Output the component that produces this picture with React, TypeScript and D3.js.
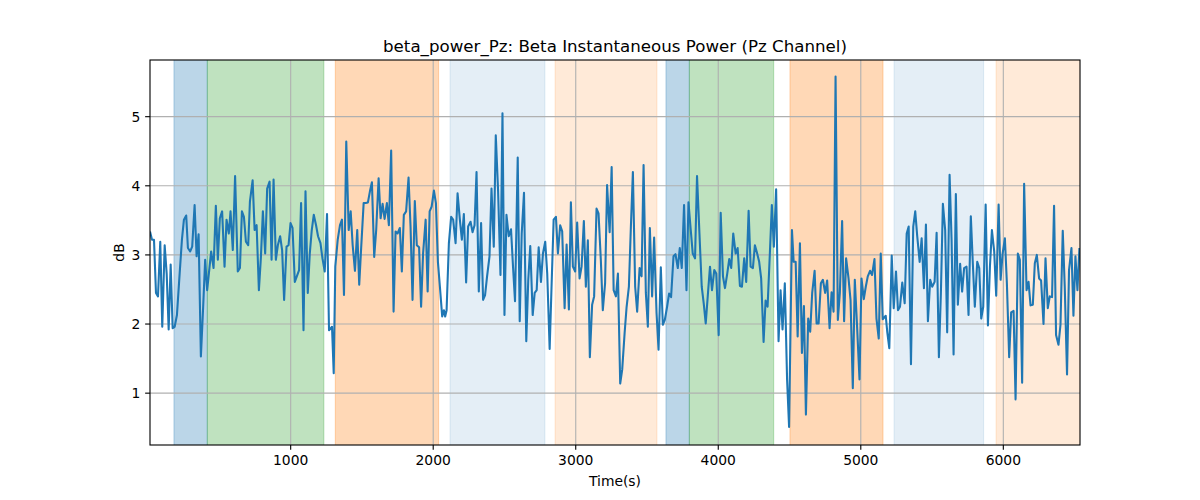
import React from 'react';
import * as d3 from 'd3';

// [time (s), power (dB)], by time window
const powerA: [number, number][] = [
  [13,3.34],[27,3.22],[41,3.22],[55,2.45],[69,2.40],[85,3.19],[99,1.96],[116,3.14],[130,2.73],[144,1.92],
  [158,2.86],[172,1.94],[186,1.96],[202,2.13],[221,2.73],[237,3.22],[251,3.51],[267,3.57],[279,3.10],[295,3.05],
  [309,3.12],[326,3.72],[340,2.98],[354,3.30],[370,1.53],[386,2.25],[400,2.93],[414,2.49],[426,2.73],[442,3.05],
  [459,2.81],[475,3.71],[489,2.93],[503,3.53],[519,3.63],[536,2.83],[550,3.51],[566,3.31],[578,3.63],[594,3.07],
  [610,4.14],[629,2.76],
];
const powerB: [number, number][] = [
  [644,2.81],[658,3.63],[672,3.55],[686,3.19],[702,3.14],[714,3.77],[733,4.08],[747,3.36],[761,3.43],[777,2.49],
  [791,2.96],[805,3.63],[821,3.02],[835,3.96],[852,4.06],[866,2.93],[880,4.09],[896,2.93],[910,3.14],[926,3.27],
  [940,3.07],[954,2.35],[971,3.12],[985,3.14],[999,3.46],[1013,3.39],[1029,2.61],[1043,2.69],[1059,2.78],[1073,3.75],
  [1090,1.91],[1104,3.92],[1120,2.45],[1134,3.02],[1148,3.36],[1162,3.58],[1178,3.43],[1192,3.27],[1209,3.17],[1223,2.95],
  [1239,2.76],[1255,3.59],[1269,1.91],
];
const powerC: [number, number][] = [
  [1290,1.96],[1302,1.29],[1313,2.83],[1330,3.22],[1346,3.43],[1360,3.51],[1374,2.42],[1390,4.64],[1407,3.36],[1421,3.63],
  [1435,3.14],[1451,2.77],[1467,3.36],[1481,2.57],[1495,3.12],[1512,3.75],[1526,3.75],[1542,3.76],[1556,3.92],[1570,4.05],
  [1586,2.97],[1600,3.36],[1617,4.11],[1631,3.53],[1645,3.74],[1659,3.52],[1675,3.75],[1689,3.43],[1705,4.51],[1722,2.18],
  [1736,3.34],[1750,3.31],[1766,3.39],[1780,2.76],[1794,3.58],[1810,3.63],[1827,4.12],[1841,3.41],[1855,2.35],[1871,3.78],
  [1885,3.14],[1901,3.11],[1915,2.25],[1929,3.02],
];
const powerD: [number, number][] = [
  [1947,3.51],[1961,2.47],[1975,3.63],[1989,3.70],[2005,3.93],[2019,3.75],[2033,2.90],[2047,2.54],[2063,2.11],[2075,2.20],
  [2084,2.11],[2094,2.20],[2110,3.17],[2126,3.55],[2140,3.51],[2157,3.17],[2171,3.89],[2187,3.51],[2201,3.22],[2215,3.59],
  [2231,2.60],[2245,3.41],[2262,3.48],[2276,3.33],[2290,3.43],[2304,4.20],[2320,2.47],[2336,3.46],[2350,2.35],[2364,2.42],
  [2378,2.69],[2395,2.98],[2409,3.96],[2425,3.12],[2439,4.73],[2455,3.94],[2472,2.71],[2486,5.05],[2500,2.13],[2514,3.58],
  [2530,3.27],[2546,3.37],[2560,2.83],[2574,2.33],
];
const powerE: [number, number][] = [
  [2593,4.41],[2607,2.04],[2621,3.31],[2637,3.90],[2653,1.75],[2667,2.64],[2681,3.13],[2698,2.13],[2712,2.45],[2726,2.49],
  [2740,3.11],[2756,2.61],[2770,3.02],[2786,3.19],[2800,2.73],[2817,1.64],[2831,2.59],[2845,3.51],[2861,3.55],[2875,3.02],
  [2891,3.43],[2905,3.34],[2922,2.23],[2936,3.15],[2952,2.21],[2966,3.76],[2980,2.83],[2996,2.76],[3010,3.47],[3027,2.66],
  [3041,2.83],[3057,3.49],[3071,2.54],[3085,3.21],[3099,1.52],[3115,2.28],[3129,2.40],[3146,3.67],[3160,3.60],[3176,2.93],
  [3190,2.20],[3206,2.59],[3220,4.01],
];
const powerF: [number, number][] = [
  [3238,3.33],[3252,4.27],[3266,2.49],[3282,2.40],[3296,2.73],[3312,1.14],[3326,1.34],[3343,1.87],[3357,2.25],[3373,2.54],
  [3387,3.41],[3401,4.20],[3417,2.54],[3431,2.18],[3448,2.81],[3462,2.69],[3476,4.30],[3492,2.45],[3506,1.96],[3520,3.39],
  [3536,2.40],[3550,3.25],[3567,2.16],[3581,1.63],[3597,2.82],[3611,1.99],[3625,2.06],[3641,2.25],[3655,2.44],[3669,2.39],
  [3686,2.98],[3700,3.01],[3716,2.81],[3730,3.10],[3744,2.81],[3760,3.72],[3777,2.49],[3791,3.76],[3807,3.36],[3821,3.02],
  [3837,2.95],[3851,4.14],[3868,3.31],
];
const powerG: [number, number][] = [
  [3884,2.54],[3898,2.30],[3912,2.01],[3928,2.45],[3942,2.83],[3956,2.49],[3972,2.78],[3986,2.73],[4003,1.84],[4017,3.61],
  [4033,2.69],[4047,2.52],[4063,2.73],[4077,2.94],[4091,2.81],[4105,3.31],[4122,3.02],[4136,3.10],[4152,2.55],[4166,2.54],
  [4182,2.95],[4196,2.61],[4213,3.64],[4227,2.83],[4243,2.81],[4257,3.14],[4273,3.02],[4287,2.90],[4301,2.66],[4318,1.74],
  [4332,2.34],[4346,2.25],[4362,3.02],[4376,3.72],[4390,3.12],[4406,3.95],[4423,1.75],[4437,2.49],[4451,1.92],[4467,2.59],
  [4483,1.19],[4497,0.51],
];
const powerH: [number, number][] = [
  [4517,3.36],[4529,2.90],[4543,2.90],[4557,1.82],[4573,3.17],[4587,1.58],[4601,2.26],[4615,0.69],[4631,2.08],[4645,1.89],
  [4659,2.45],[4676,2.77],[4690,2.01],[4704,2.01],[4720,2.59],[4734,2.64],[4750,2.45],[4764,2.63],[4781,1.94],[4795,2.46],
  [4809,2.18],[4823,5.58],[4839,2.06],[4853,2.45],[4869,3.49],[4883,2.04],[4897,2.95],[4914,2.66],[4928,2.35],[4944,1.07],
  [4958,2.64],[4974,1.96],[4991,1.20],[5005,2.66],[5021,2.36],[5035,2.54],[5049,2.69],[5065,2.77],[5079,2.71],[5096,2.94],
  [5110,2.08],[5126,1.79],[5140,3.02],[5154,2.07],
];
const powerI: [number, number][] = [
  [5175,2.12],[5186,1.88],[5200,1.65],[5217,2.99],[5231,2.23],[5247,2.76],[5261,2.20],[5275,2.25],[5291,2.60],[5308,2.30],
  [5322,3.31],[5336,3.41],[5352,1.42],[5368,3.41],[5382,3.63],[5396,3.27],[5413,2.90],[5427,3.24],[5443,2.52],[5457,3.44],
  [5471,2.04],[5487,2.64],[5501,2.54],[5518,2.61],[5532,3.32],[5548,1.52],[5562,2.45],[5576,3.74],[5592,3.36],[5606,1.88],
  [5623,4.16],[5637,3.22],[5651,1.56],[5667,3.88],[5681,2.28],[5697,2.87],[5711,2.47],[5725,2.81],[5742,2.83],[5756,2.13],
  [5772,3.56],[5786,2.88],[5800,2.25],
];
const powerJ: [number, number][] = [
  [5817,2.90],[5831,2.81],[5845,2.08],[5859,2.25],[5876,3.73],[5892,1.98],[5906,2.83],[5920,3.36],[5936,3.05],[5950,2.41],
  [5967,3.73],[5981,2.64],[5995,3.02],[6011,3.24],[6025,2.59],[6041,1.52],[6055,2.17],[6072,2.19],[6086,0.91],[6102,3.02],
  [6116,2.93],[6132,1.15],[6146,4.03],[6163,2.49],[6177,2.61],[6191,2.27],[6207,2.28],[6221,2.88],[6235,3.00],[6251,2.66],
  [6265,2.63],[6282,2.00],[6296,2.95],[6312,2.23],[6326,2.40],[6342,2.39],[6356,3.71],[6370,1.84],[6387,1.70],[6401,1.99],
  [6417,3.35],[6431,2.54],[6447,1.27],[6461,2.78],[6478,3.10],[6492,2.12],[6506,2.98],[6520,2.49],[6534,3.10],
];

// shaded epochs
const spanStarts = [181, 415, 1313, 2118, 2855, 3633, 3797, 4503, 5233, 5949];
const spanEnds = [415, 1233, 2038, 2784, 3570, 3797, 4389, 5156, 5862, 6600];
const spanKinds = ['blue', 'green', 'orange', 'paleBlue', 'paleOrange', 'blue', 'green', 'orange', 'paleBlue', 'paleOrange'];

const xTicks = [1000, 2000, 3000, 4000, 5000, 6000];
const yTicks = [1, 2, 3, 4, 5];
const xDomain = [13, 6538];
const yDomain = [0.25, 5.82];

const titleText = 'beta_power_Pz: Beta Instantaneous Power (Pz Channel)';
const xLabelText = 'Time(s)';
const yLabelText = 'dB';

const spanStyle: Record<string, { color: string; opacity: number }> = {
  blue: { color: '#1f77b4', opacity: 0.3 },
  green: { color: '#2ca02c', opacity: 0.3 },
  orange: { color: '#ff7f0e', opacity: 0.3 },
  paleBlue: { color: '#1f77b4', opacity: 0.12 },
  paleOrange: { color: '#ff7f0e', opacity: 0.16 },
};

const W = 1200, H = 500;
const L = 150, R = 1080, T = 60, B = 445;
const FONT = '"DejaVu Sans", sans-serif';
const PT = 100 / 72;

export default function App() {
  const data = [...powerA, ...powerB, ...powerC, ...powerD, ...powerE, ...powerF, ...powerG, ...powerH, ...powerI, ...powerJ];
  const x = d3.scaleLinear().domain(xDomain).range([L, R]);
  const y = d3.scaleLinear().domain(yDomain).range([B, T]);
  const line = d3.line<[number, number]>().x(d => x(d[0])).y(d => y(d[1]));
  const tickLen = 3.5 * PT;
  const fs = 10 * PT;

  return (
    <svg width={W} height={H} style={{ position: 'absolute', left: 0, top: 0, background: '#fff' }}
      xmlns="http://www.w3.org/2000/svg">
      <defs>
        <clipPath id="plotClip">
          <rect x={L} y={T} width={R - L} height={B - T} />
        </clipPath>
      </defs>
      <rect x={0} y={0} width={W} height={H} fill="#fff" />
      <g clipPath="url(#plotClip)">
        {spanStarts.map((s, i) => {
          const st = spanStyle[spanKinds[i]];
          const x0 = x(s), x1 = x(spanEnds[i]);
          return (
            <rect key={'s' + i} x={x0} y={T - 5} width={x1 - x0} height={B - T + 10}
              fill={st.color} fillOpacity={st.opacity}
              stroke={st.color} strokeOpacity={st.opacity} strokeWidth={1} />
          );
        })}
        {xTicks.map(t => (
          <line key={'gx' + t} x1={x(t)} x2={x(t)} y1={T} y2={B} stroke="#b0b0b0" strokeWidth={0.8 * PT} />
        ))}
        {yTicks.map(t => (
          <line key={'gy' + t} x1={L} x2={R} y1={y(t)} y2={y(t)} stroke="#b0b0b0" strokeWidth={0.8 * PT} />
        ))}
        <path d={line(data) || ''} fill="none" stroke="#1f77b4" strokeWidth={1.5 * PT}
          strokeLinejoin="round" strokeLinecap="butt" />
      </g>
      <rect x={L} y={T} width={R - L} height={B - T} fill="none" stroke="#000" strokeWidth={0.8 * PT} />
      {xTicks.map(t => (
        <g key={'tx' + t}>
          <line x1={x(t)} x2={x(t)} y1={B} y2={B + tickLen} stroke="#000" strokeWidth={0.8 * PT} />
          <text x={x(t)} y={B + 19.5} textAnchor="middle" fontFamily={FONT} fontSize={fs} fill="#000">{t}</text>
        </g>
      ))}
      {yTicks.map(t => (
        <g key={'ty' + t}>
          <line x1={L - tickLen} x2={L} y1={y(t)} y2={y(t)} stroke="#000" strokeWidth={0.8 * PT} />
          <text x={L - 2 * tickLen} y={y(t) + 5} textAnchor="end" fontFamily={FONT} fontSize={fs} fill="#000">{t}</text>
        </g>
      ))}
      <text x={(L + R) / 2} y={52} textAnchor="middle" fontFamily={FONT} fontSize={12 * PT} fill="#000">{titleText}</text>
      <text x={(L + R) / 2} y={486} textAnchor="middle" fontFamily={FONT} fontSize={fs} fill="#000">{xLabelText}</text>
      <text transform={`translate(124, ${(T + B) / 2}) rotate(-90)`} textAnchor="middle" fontFamily={FONT}
        fontSize={fs} fill="#000">{yLabelText}</text>
    </svg>
  );
}
